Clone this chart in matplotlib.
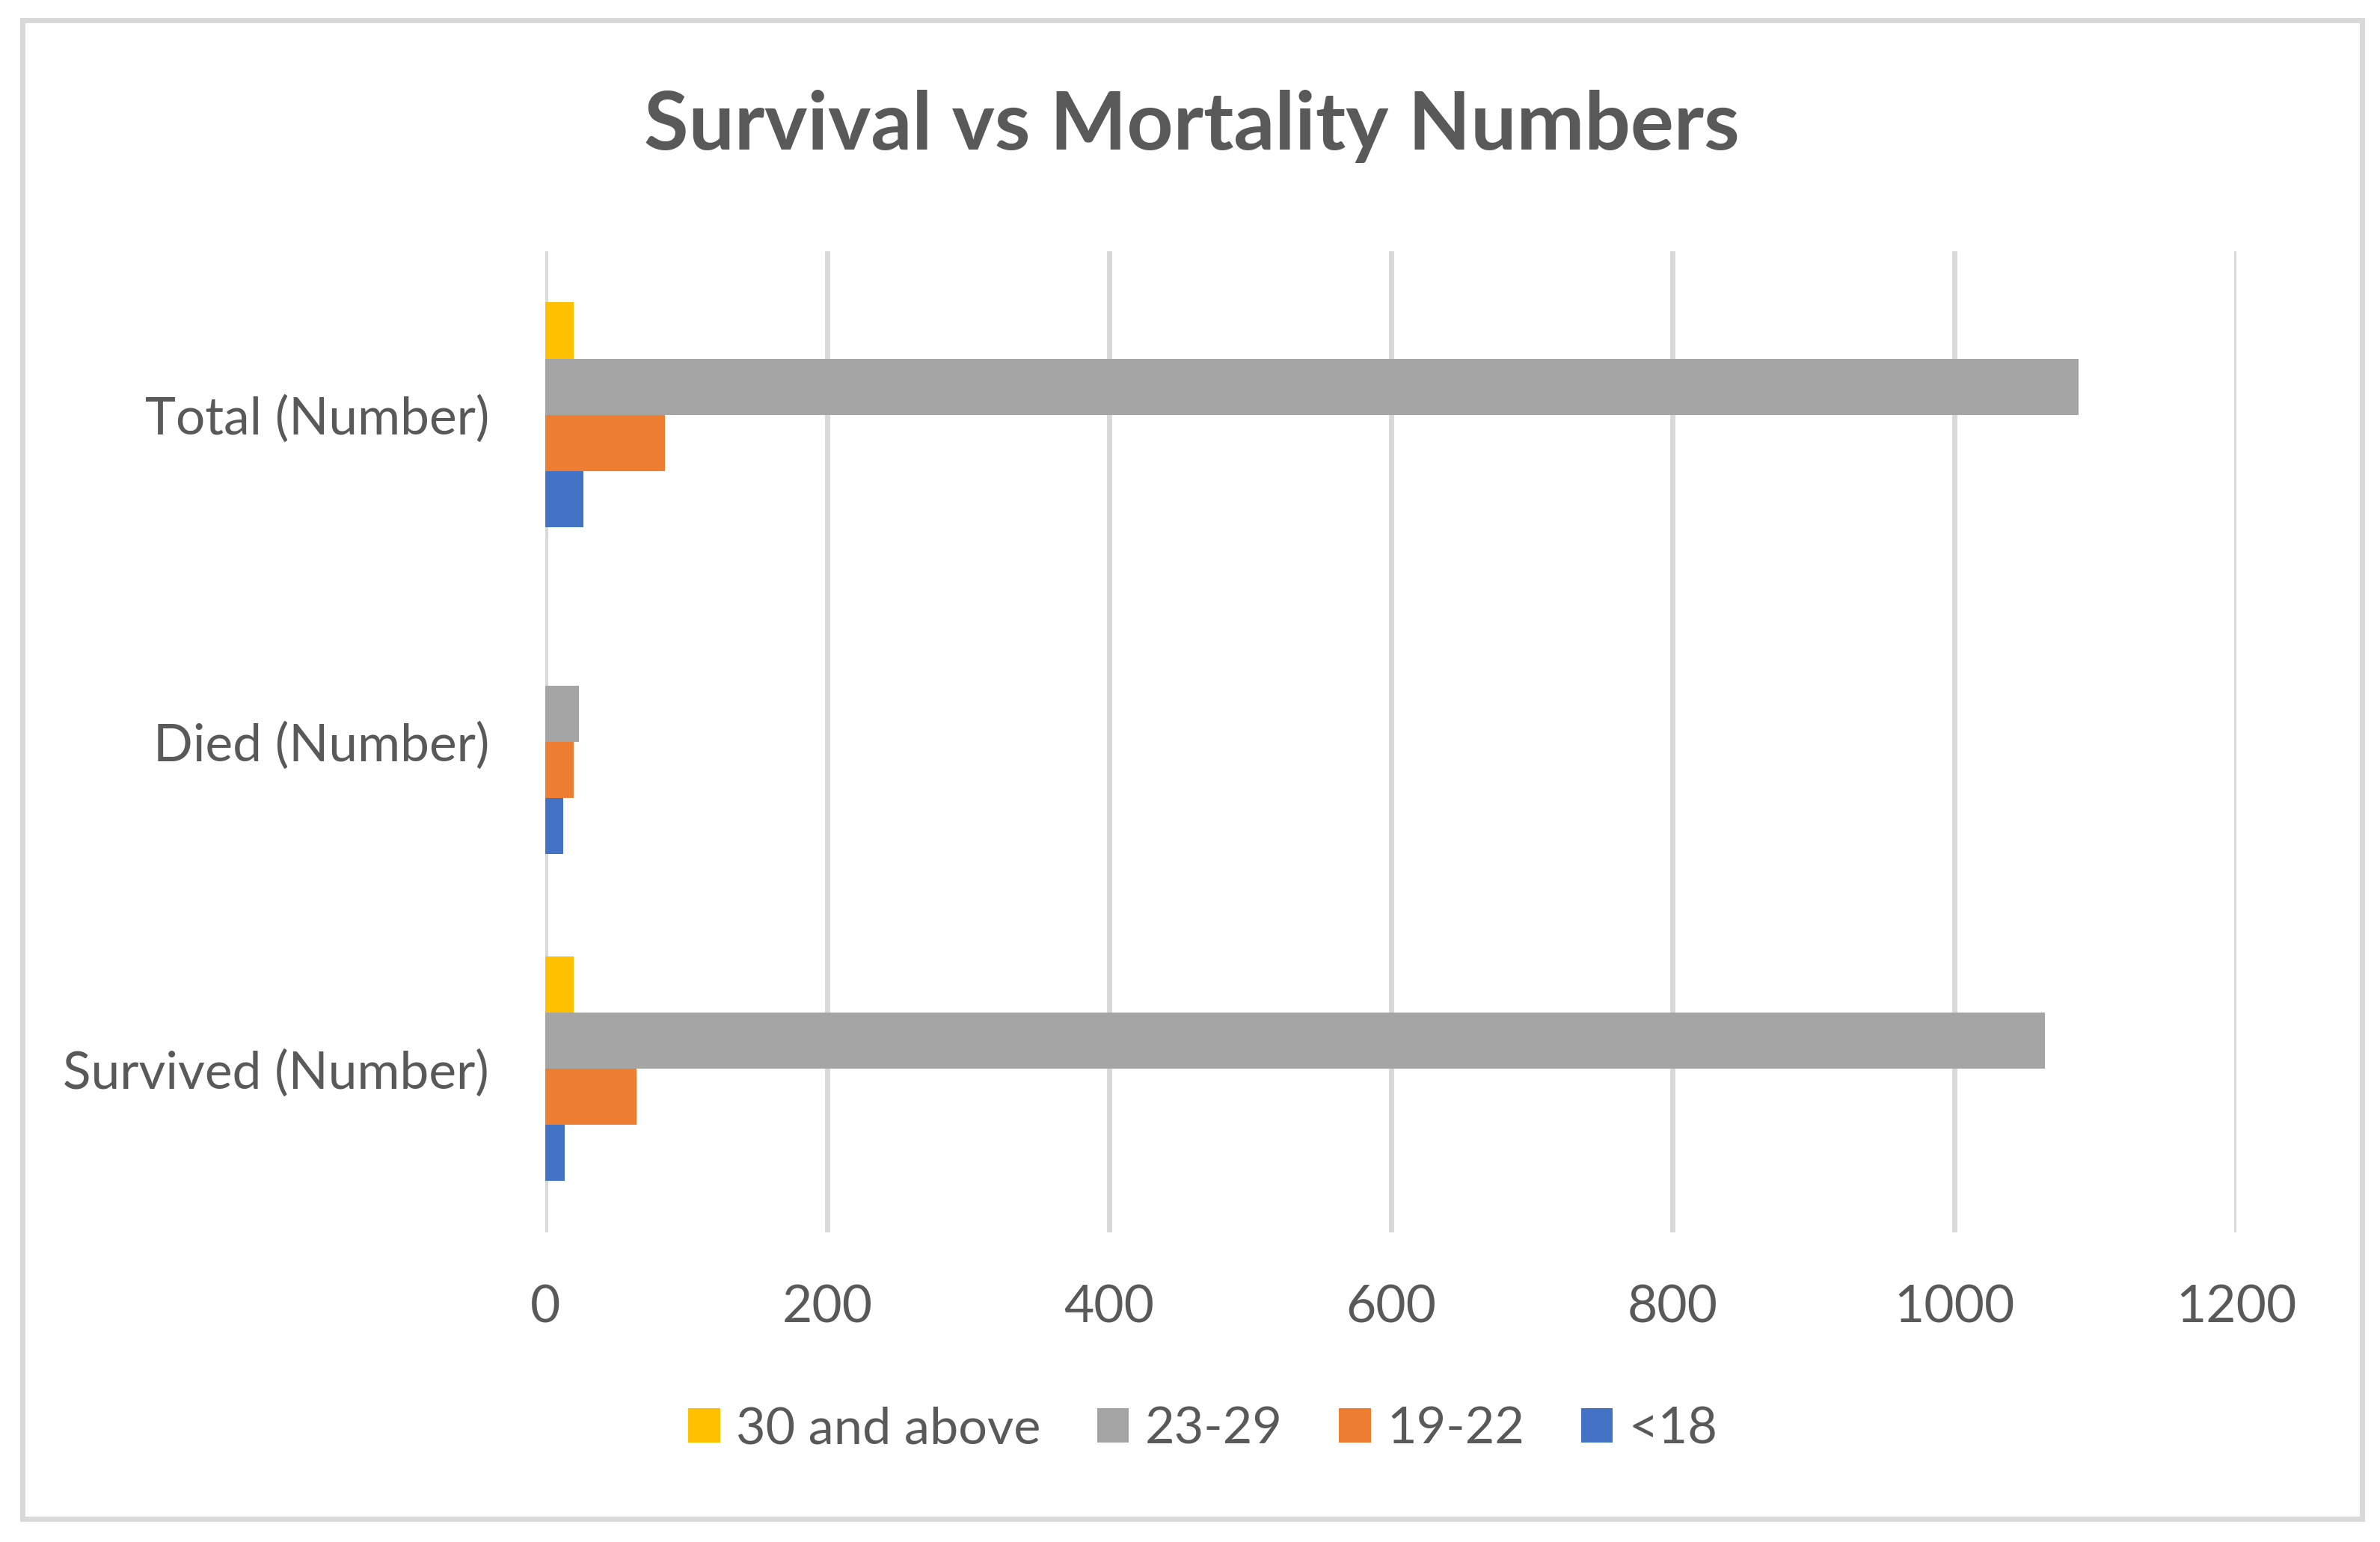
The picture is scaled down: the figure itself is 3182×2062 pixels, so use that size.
import matplotlib

matplotlib.use("Agg")
import matplotlib.pyplot as plt
import numpy as np
from matplotlib.patches import Rectangle

# Data
categories = ["Survived (Number)", "Died (Number)", "Total (Number)"]
series_names = ["30 and above", "23-29", "19-22", "<18"]
vals_30_above = [20, 0, 20]
vals_23_29 = [1064, 24, 1088]
vals_19_22 = [65, 20, 85]
vals_under_18 = [14, 13, 27]
x_ticks = [0, 200, 400, 600, 800, 1000, 1200]

COLORS = ["#FFC000", "#A5A5A5", "#ED7D31", "#4472C4"]
TEXT = "#595959"
GRID = "#D9D9D9"
FONT = "Lato"

plt.rcParams["font.family"] = [FONT, "DejaVu Sans"]

fig = plt.figure(figsize=(15.91, 10.31), dpi=200)
fig.patch.set_facecolor("white")
ax = fig.add_axes([0.2291, 0.2008, 0.7106, 0.6363])

y = np.arange(len(categories))
h = 0.1716
series = [vals_30_above, vals_23_29, vals_19_22, vals_under_18]
offsets = [1.5, 0.5, -0.5, -1.5]
handles = []
for name, vals, off, col in zip(series_names, series, offsets, COLORS):
    b = ax.barh(y + off * h, vals, height=h, color=col, label=name, zorder=3)
    handles.append(b)

ax.set_xlim(0, 1200)
ax.set_ylim(-0.5, 2.5)
ax.set_xticks(x_ticks)
ax.set_yticks(y)
ax.set_yticklabels(categories)
ax.grid(axis="x", color=GRID, linewidth=2.5, zorder=0)
ax.set_axisbelow(True)
for s in ax.spines.values():
    s.set_visible(False)
ax.tick_params(axis="y", length=0, pad=27, labelsize=25, labelcolor=TEXT)
ax.tick_params(axis="x", length=0, pad=25, labelsize=25, labelcolor=TEXT)

fig.text(0.5006, 0.903, "Survival vs Mortality Numbers", ha="center", va="baseline",
         fontsize=39, fontweight="bold", color=TEXT)

leg = fig.legend(handles=handles, labels=series_names, loc="center", ncol=4,
                 bbox_to_anchor=(0.5055, 0.0732), frameon=False, fontsize=24.6,
                 handlelength=0.62, handleheight=0.66, handletextpad=0.32, columnspacing=1.1)
for t in leg.get_texts():
    t.set_color(TEXT)

# chart border
fig.patches.append(Rectangle((30 / 3182, 1 - 2031 / 2062), 3128 / 3182, 2004 / 2062,
                             transform=fig.transFigure, fill=False, edgecolor=GRID,
                             linewidth=2.5, zorder=0))

fig.savefig("out.png", dpi=200, facecolor="white")
